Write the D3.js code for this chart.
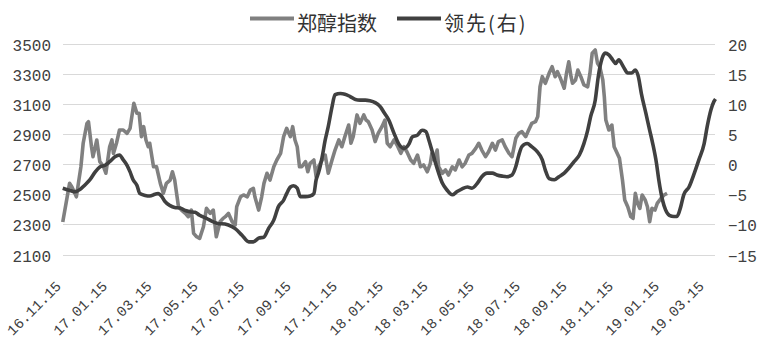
<!DOCTYPE html>
<html><head><meta charset="utf-8">
<script src="https://cdn.jsdelivr.net/npm/d3@7"></script>
<style>html,body{margin:0;padding:0;background:#fff;}svg{display:block;}</style>
</head><body>
<svg id="chart" width="767" height="357"></svg>
<script>
// ---- data ----
const seriesNames = ["郑醇指数", "领先(右)"];
const tickLabels = ["16.11.15","17.01.15","17.03.15","17.05.15","17.07.15","17.09.15","17.11.15","18.01.15","18.03.15","18.05.15","18.07.15","18.09.15","18.11.15","19.01.15","19.03.15"];
const leftTicks = [2100,2300,2500,2700,2900,3100,3300,3500];
const rightTicks = [-15,-10,-5,0,5,10,15,20];
// days since 2016-11-15
const grayDays = [1,10,13,17,19,25,28,33,35,39,41,46,50,55,58,63,66,68,72,76,81,86,90,95,99,102,105,108,111,114,116,121,125,130,134,138,143,146,149,154,158,163,167,171,174,178,182,187,191,196,200,204,209,213,216,220,225,229,231,236,240,245,249,253,255,260,264,267,271,275,280,284,289,293,297,302,305,308,311,314,317,322,325,328,333,336,339,344,348,352,357,361,366,370,374,379,382,385,390,394,399,402,405,410,414,418,423,427,430,434,439,443,448,452,456,461,465,470,474,478,483,487,489,492,496,498,503,507,511,516,520,525,529,533,538,542,547,551,555,560,564,569,573,577,582,586,591,595,600,604,608,613,617,621,626,629,632,635,639,644,648,652,655,659,664,667,670,673,675,679,682,686,690,695,698,701,705,708,711,715,717,719,723,727,730,734,737,741,744,748,752,755,758,761,764,767,771,774,777,780,784,787,792,796,800];
const grayValues = [2316,2572,2550,2506,2483,2682,2838,2970,2981,2815,2749,2860,2716,2682,2639,2815,2860,2771,2838,2926,2926,2904,2937,3103,3037,3037,2882,2948,2860,2815,2838,2682,2682,2572,2506,2572,2594,2649,2594,2417,2395,2373,2351,2395,2240,2218,2207,2284,2406,2373,2395,2218,2317,2340,2351,2373,2317,2296,2417,2483,2495,2483,2528,2539,2483,2395,2483,2572,2639,2594,2682,2727,2771,2882,2937,2882,2948,2860,2815,2682,2682,2716,2649,2705,2727,2616,2682,2727,2760,2639,2727,2793,2860,2815,2882,2959,2838,2882,3026,2970,3026,2992,2981,2926,2849,2904,2948,2992,2838,2815,2860,2826,2771,2815,2782,2727,2705,2760,2682,2694,2649,2705,2771,2727,2793,2682,2639,2661,2627,2682,2661,2727,2682,2705,2760,2771,2804,2838,2793,2749,2782,2838,2793,2849,2860,2815,2771,2749,2871,2904,2915,2882,2926,2970,2981,3015,3213,3280,3236,3302,3346,3280,3313,3269,3203,3302,3379,3280,3236,3258,3324,3280,3225,3213,3302,3435,3457,3369,3346,3258,3147,2992,2926,2959,2815,2771,2738,2594,2462,2417,2351,2340,2506,2439,2406,2495,2462,2417,2317,2406,2395,2439,2473,2495,2506];
const leadDays = [1,11,17,24,30,37,44,50,57,63,70,76,81,86,90,94,99,103,110,116,123,127,132,136,143,149,156,163,169,176,182,191,200,207,211,220,229,238,247,253,260,267,273,280,286,293,297,302,306,311,315,322,328,333,336,339,344,348,352,357,361,368,374,381,388,394,401,407,414,421,426,432,439,445,452,459,463,470,476,481,485,489,494,498,503,509,516,522,529,536,542,549,555,562,569,575,582,588,595,600,604,608,615,621,628,635,639,644,651,657,664,670,677,684,690,695,699,705,709,714,718,723,728,732,736,742,748,753,758,762,766,772,777,781,786,789,794,798,803,809,813,818,822,829,836,842,849,853,858,862,864];
const leadValues = [-4.0,-4.4,-4.6,-4.2,-3.5,-2.6,-1.3,-0.5,-0.2,0.4,1.2,1.5,0.7,-0.2,-1.3,-2.6,-3.5,-4.9,-5.2,-5.3,-5.0,-4.9,-5.4,-6.2,-6.9,-7.2,-7.3,-7.7,-7.9,-8.0,-8.5,-9.0,-9.6,-9.9,-9.9,-10.1,-10.7,-11.8,-12.9,-12.9,-12.3,-12.1,-10.7,-9.3,-7.1,-6.0,-4.9,-3.8,-3.6,-4.0,-5.4,-5.4,-5.3,-4.9,-2.6,-1.5,1.2,4.0,6.2,9.5,11.5,11.7,11.6,11.2,10.7,10.6,10.6,10.5,10.2,9.5,8.5,7.3,5.1,3.4,2.6,3.4,4.5,4.8,5.6,5.4,4.0,2.3,0.1,-1.5,-3.2,-4.3,-5.1,-4.6,-4.1,-3.8,-4.0,-3.2,-2.1,-1.5,-1.5,-1.8,-2.0,-2.1,-1.8,-0.4,1.5,2.9,3.4,2.9,2.1,0.7,-1.0,-2.4,-2.6,-2.1,-1.5,-0.7,0.4,1.5,3.4,5.6,7.9,10.6,14.5,17.5,18.4,18.1,17.3,16.7,17.3,16.2,15.1,15.1,15.6,14.5,11.7,8.4,5.6,3.4,0.1,-2.6,-6.0,-7.6,-8.5,-8.7,-8.7,-7.1,-5.1,-3.8,-1.5,0.7,3.4,6.2,9.0,10.4,10.8];

// ---- chart ----
const svg = d3.select("#chart");
const start = new Date(2016, 10, 15);
const toDate = d => d3.timeDay.offset(start, d);
const parseTick = d3.timeParse("%y.%m.%d");

const x = d3.scaleTime().domain([start, toDate(864)]).range([62, 715.5]);
const yL = d3.scaleLinear().domain([2100, 3500]).range([254.5, 43.5]);
const yR = d3.scaleLinear().domain([-15, 20]).range([254.5, 43.5]);

// gridlines
svg.append("g").selectAll("line").data(leftTicks).join("line")
  .attr("x1", 63).attr("x2", 715)
  .attr("y1", d => Math.round(yL(d)) + 0.5).attr("y2", d => Math.round(yL(d)) + 0.5)
  .attr("stroke", "#d9d9d9").attr("stroke-width", 1);

// left axis
const axL = d3.axisLeft(yL).tickValues(leftTicks).tickFormat(d3.format("d")).tickSize(0).tickPadding(0);
svg.append("g").attr("transform", "translate(51,1.5)").call(axL)
  .call(g => g.select(".domain").remove())
  .selectAll("text").attr("font-family", "'Liberation Mono', monospace").attr("font-size", 16).attr("fill", "#404040");

// right axis
const axR = d3.axisRight(yR).tickValues(rightTicks).tickFormat(d3.format("d")).tickSize(0).tickPadding(0);
svg.append("g").attr("transform", "translate(728,1.5)").call(axR)
  .call(g => g.select(".domain").remove())
  .selectAll("text").attr("font-family", "'Liberation Mono', monospace").attr("font-size", 16).attr("fill", "#404040");

// x labels
svg.append("g").selectAll("text").data(tickLabels).join("text")
  .attr("transform", d => `translate(${x(parseTick(d))},287) rotate(-45)`)
  .attr("text-anchor", "end")
  .attr("font-family", "'Liberation Mono', monospace").attr("font-size", 14.5).attr("fill", "#404040")
  .text(d => d);

// lines
const grayData = d3.zip(grayDays, grayValues);
const leadData = d3.zip(leadDays, leadValues);
svg.append("path").datum(grayData)
  .attr("fill", "none").attr("stroke", "#808080").attr("stroke-width", 3.6).attr("stroke-linejoin", "round")
  .attr("d", d3.line().x(d => x(toDate(d[0]))).y(d => yL(d[1])));
svg.append("path").datum(leadData)
  .attr("fill", "none").attr("stroke", "#404040").attr("stroke-width", 3.6).attr("stroke-linejoin", "round")
  .attr("d", d3.line().curve(d3.curveMonotoneX).x(d => x(toDate(d[0]))).y(d => yR(d[1])));

// legend
const legend = svg.append("g");
const legItems = [
  {name: seriesNames[0], color: "#808080", x0: 250},
  {name: seriesNames[1], color: "#404040", x0: 397}
];
legItems.forEach(it => {
  legend.append("line").attr("x1", it.x0).attr("x2", it.x0 + 44).attr("y1", 18.5).attr("y2", 18.5)
    .attr("stroke", it.color).attr("stroke-width", 4);
  legend.append("text").attr("x", it.x0 + 47).attr("y", 22).attr("dominant-baseline", "central")
    .attr("font-family", "'Noto Sans CJK SC', sans-serif").attr("font-size", 20).attr("fill", "#333")
    .attr("letter-spacing", it.name === seriesNames[1] ? 2 : 0)
    .text(it.name);
});
</script>
</body></html>
